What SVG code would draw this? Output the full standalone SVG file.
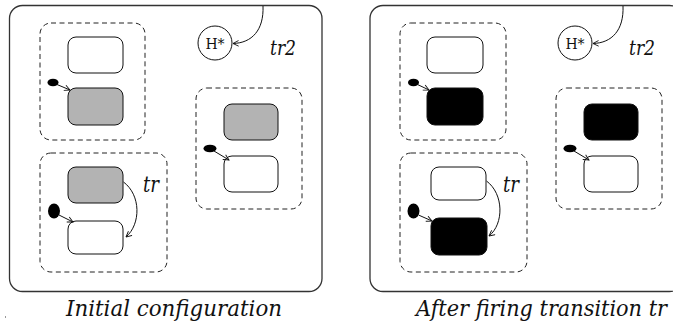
<svg xmlns="http://www.w3.org/2000/svg" width="673" height="326" viewBox="0 0 673 326">
  <style>
    .frame { fill: #fff; stroke: #333; stroke-width: 1.3; }
    .region { fill: none; stroke: #222; stroke-width: 1; stroke-dasharray: 5 3.5; }
    .state { stroke: #111; stroke-width: 1; }
    .idle { fill: #fff; }
    .grey { fill: #b3b3b3; }
    .active { fill: #000; }
    .dot { fill: #000; }
    .edge { fill: none; stroke: #111; stroke-width: 1; }
    .hist { font-family: 'DejaVu Serif', serif; font-size: 14px; fill: #111; }
    .label { font-family: 'DejaVu Serif Condensed', 'DejaVu Serif', serif; font-stretch: condensed; font-style: italic; fill: #111; }
  </style>
  <defs>
    <marker id="head" viewBox="0 0 10 10" refX="9" refY="5" markerWidth="7" markerHeight="7" markerUnits="userSpaceOnUse" orient="auto">
      <path d="M1,1 L9,5 L1,9" fill="none" stroke="#111" stroke-width="1.3"/>
    </marker>
  </defs>
  <rect width="673" height="326" fill="#fff"/>

  <!-- left configuration -->
  <g id="left-top">
    <rect class="frame" x="9.5" y="5.5" width="312.5" height="286" rx="13"/>
    <g id="left-hist">
      <circle cx="215" cy="43" r="17" fill="#fff" stroke="#111" stroke-width="1"/>
      <text class="hist" x="215" y="48.5" text-anchor="middle">H*</text>
    </g>
    <text class="label" x="270" y="55" font-size="21" textLength="26" lengthAdjust="spacingAndGlyphs">tr2</text>
  </g>
  <g id="left-regionA">
    <rect class="region" x="40" y="23" width="105" height="117" rx="11"/>
    <rect id="left-A1" class="state idle" x="68" y="37" width="55" height="36" rx="8"/>
    <rect id="left-A2" class="state grey" x="68" y="88" width="55" height="37" rx="8"/>
    <ellipse class="dot" cx="53" cy="82.5" rx="5.5" ry="3.8"/>
  </g>
  <g id="left-regionB">
    <rect class="region" x="40" y="153" width="127" height="119" rx="11"/>
    <rect id="left-B1" class="state grey" x="68" y="167" width="55" height="36" rx="8"/>
    <rect id="left-B2" class="state idle" x="68" y="221" width="55" height="33" rx="8"/>
    <ellipse class="dot" cx="54" cy="211" rx="6" ry="7.5"/>
    <text class="label" x="143" y="192" font-size="22" textLength="16" lengthAdjust="spacingAndGlyphs">tr</text>
  </g>
  <g id="left-regionC">
    <rect class="region" x="196" y="88" width="106" height="121" rx="11"/>
    <rect id="left-C1" class="state grey" x="224" y="104" width="54" height="36" rx="8"/>
    <rect id="left-C2" class="state idle" x="224" y="156" width="54" height="36" rx="8"/>
    <ellipse class="dot" cx="210" cy="148.5" rx="6.5" ry="3.8"/>
  </g>

  <!-- right configuration -->
  <g id="right-top">
    <rect class="frame" x="370" y="5.5" width="312.5" height="286" rx="13"/>
    <g id="right-hist">
      <circle cx="575" cy="43" r="17" fill="#fff" stroke="#111" stroke-width="1"/>
      <text class="hist" x="575" y="48.5" text-anchor="middle">H*</text>
    </g>
    <text class="label" x="629" y="55" font-size="21" textLength="26" lengthAdjust="spacingAndGlyphs">tr2</text>
  </g>
  <g id="right-regionA">
    <rect class="region" x="400" y="23" width="106" height="117" rx="11"/>
    <rect id="right-A1" class="state idle" x="427" y="37" width="56" height="36" rx="8"/>
    <rect id="right-A2" class="state active" x="427" y="88" width="56" height="37" rx="8"/>
    <ellipse class="dot" cx="413.5" cy="82.5" rx="5.5" ry="3.8"/>
  </g>
  <g id="right-regionB">
    <rect class="region" x="400" y="153" width="127" height="119" rx="11"/>
    <rect id="right-B1" class="state idle" x="431" y="167" width="55" height="33" rx="8"/>
    <rect id="right-B2" class="state active" x="431" y="218" width="56" height="37" rx="8"/>
    <ellipse class="dot" cx="413.5" cy="211" rx="6" ry="7.5"/>
    <text class="label" x="503" y="192" font-size="22" textLength="16" lengthAdjust="spacingAndGlyphs">tr</text>
  </g>
  <g id="right-regionC">
    <rect class="region" x="556" y="88" width="106" height="121" rx="11"/>
    <rect id="right-C1" class="state active" x="584" y="104" width="54" height="36" rx="8"/>
    <rect id="right-C2" class="state idle" x="584" y="156" width="54" height="36" rx="8"/>
    <ellipse class="dot" cx="570" cy="148.5" rx="6.5" ry="3.8"/>
  </g>

  <!-- transitions -->
  <g id="connectors">
    <path class="edge" d="M263,6 C264,30 252,43 233,43.5" marker-end="url(#head)"/>
    <path class="edge" d="M57,84.5 L70,90" marker-end="url(#head)"/>
    <path class="edge" d="M59,215 L73,222" marker-end="url(#head)"/>
    <path class="edge" d="M214,151 L229,160" marker-end="url(#head)"/>
    <path class="edge" d="M123.5,182 C141,195 141,224 126,237" marker-end="url(#head)"/>

    <path class="edge" d="M623,6 C624,30 612,43 593,43.5" marker-end="url(#head)"/>
    <path class="edge" d="M417.5,84.5 L429,90" marker-end="url(#head)"/>
    <path class="edge" d="M418.5,215 L432,221" marker-end="url(#head)"/>
    <path class="edge" d="M574,151 L589,160" marker-end="url(#head)"/>
    <path class="edge" d="M486.5,181 C504,194 504,224 489,236" marker-end="url(#head)"/>
  </g>

  <!-- captions -->
  <text class="label" x="66" y="316" font-size="22" textLength="216" lengthAdjust="spacingAndGlyphs">Initial configuration</text>
  <text class="label" x="416" y="316" font-size="22" textLength="251" lengthAdjust="spacingAndGlyphs">After firing transition tr</text>
  <rect x="5" y="316" width="1" height="2" fill="#999"/>
</svg>
